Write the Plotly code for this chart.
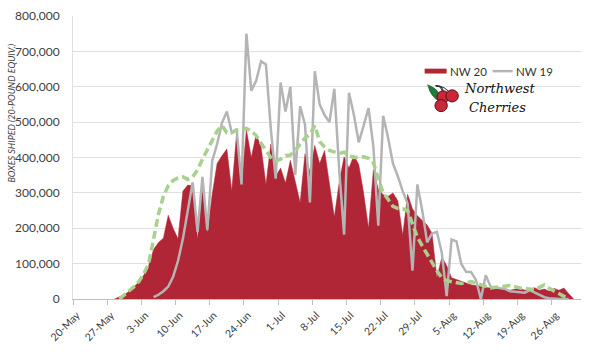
import plotly.graph_objects as go
import pandas as pd

# ---- data (one value per day, 20-May .. 1-Sep) ----
start_date = "2020-05-20"
n_days = 104
tick_labels = ["20-May", "27-May", "3-Jun", "10-Jun", "17-Jun", "24-Jun", "1-Jul", "8-Jul",
               "15-Jul", "22-Jul", "29-Jul", "5-Aug", "12-Aug", "19-Aug", "26-Aug"]
series_names = ["NW 20", "NW 19"]

nw20 = [None] * 8 + [
    0, 5000, 12000, 22000, 35000, 48000, 68000, 95000, 140000, 160000,          # d8-17
    172000, 237000, 200000, 170000, 305000, 322000, 320000, 168000, 324000, 186000,  # d18-27
    296000, 383000, 405000, 424000, 305000, 470000, 321000, 479000, 400000, 466000,  # d28-37
    430000, 324000, 438000, 347000, 370000, 328000, 392000, 330000, 273000, 411000,  # d38-47
    360000, 434000, 383000, 420000, 330000, 232000, 330000, 402000, 370000, 406000,  # d48-57
    380000, 300000, 200000, 365000, 310000, 295000, 290000, 300000, 278000, 180000,  # d58-67
    296000, 255000, 235000, 223000, 209000, 186000, 60000, 118000, 95000, 60000,     # d68-77
    55000, 50000, 45000, 40000, 38000, 35000, 32000, 30000, 28000, 30000,            # d78-87
    27000, 25000, 28000, 30000, 25000, 28000, 32000, 25000, 28000, 22000,            # d88-97
    30000, 25000, 31000, 15000, 0, None]                                              # d98-103

nw19 = [None] * 16 + [
    5000, 12000, 22000, 35000, 63000, 108000, 170000, 250000, 330000, 190000,       # d16-25
    345000, 195000, 390000, 438000, 498000, 530000, 470000, 480000, 324000, 750000,  # d26-35
    589000, 617000, 672000, 663000, 480000, 340000, 612000, 530000, 600000, 350000,  # d36-45
    545000, 493000, 273000, 644000, 550000, 520000, 500000, 594000, 365000, 182000,  # d46-55
    583000, 521000, 443000, 490000, 540000, 430000, 207000, 518000, 456000, 383000,  # d56-65
    347000, 305000, 270000, 80000, 324000, 250000, 160000, 185000, 190000, 130000,   # d66-75
    8000, 168000, 163000, 99000, 76000, 76000, 54000, 0, 67000, 35000,               # d76-85
    33000, 30000, 28000, 22000, 20000, 20000, 18000, 25000, 18000, 10000,            # d86-95
    5000, 2000, 0, 0, 0, 0, None, None]                                               # d96-103

avg = [None] * 9 + [
    0, 12000, 22000, 35000, 50000, 72000, 100000, 170000, 240000, 290000,           # d9-18
    320000, 335000, 342000, 345000, 338000, 345000, 365000, 395000, 420000, 450000,  # d19-28
    475000, 490000, 470000, 470000, 478000, 478000, 482000, 475000, 462000, 440000,  # d29-38
    420000, 400000, 390000, 395000, 405000, 407000, 420000, 438000, 455000, 465000,  # d39-48
    490000, 445000, 430000, 420000, 415000, 411000, 415000, 405000, 400000, 402000,  # d49-58
    402000, 398000, 385000, 340000, 300000, 282000, 262000, 256000, 255000, 250000,  # d59-68
    215000, 175000, 150000, 125000, 100000, 80000, 60000, 52000, 49000, 46000,       # d69-78
    44000, 46000, 49000, 45000, 40000, 36000, 31000, 33000, 35000, 37000,            # d79-88
    38000, 35000, 31000, 30000, 28000, 26000, 33000, 40000, 30000, 22000,            # d89-98
    14000, 6000, 0, None, None]                                                       # d99-103

days = pd.date_range(start_date, periods=n_days)
tick_days = pd.date_range(start_date, periods=len(tick_labels), freq="7D")

# ---- layout geometry (pixels) ----
W, H = 600, 352
L, R, T, B = 73.3, 18.6, 8.3, 52.5
pw, ph = W - L - R, H - T - B


def px(x):
    return (x - L) / pw


def py(y):
    return (H - B - y) / ph


half = pd.Timedelta(hours=12)
font_family = "Lato, 'Open Sans', sans-serif"
txt = "#404040"
RED, GRAY, GREEN = "#B02636", "#B4B4B4", "#A9D18E"

fig = go.Figure()
fig.add_trace(go.Scatter(
    x=days, y=nw20, name=series_names[0], mode="lines", showlegend=False,
    line=dict(color=RED, width=0.5), fill="tozeroy", fillcolor=RED,
))
fig.add_trace(go.Scatter(
    x=days, y=nw19, name=series_names[1], mode="lines", showlegend=False,
    line=dict(color=GRAY, width=2.5),
))
fig.add_trace(go.Scatter(
    x=days, y=avg, name="Average", mode="lines", showlegend=False,
    line=dict(color=GREEN, width=3.5, dash="8px,4px"),
))

fig.update_layout(
    width=W, height=H,
    margin=dict(l=L, r=R, t=T, b=B, pad=0),
    paper_bgcolor="white", plot_bgcolor="white",
    font=dict(family=font_family, size=11, color=txt),
    showlegend=False,
    xaxis=dict(
        range=[days[0] - half, days[-1] + half],
        tickvals=[d - half for d in tick_days], ticktext=tick_labels,
        tickangle=-45, ticks="outside", ticklen=5, tickcolor="#BFBFBF",
        showline=True, linecolor="#BFBFBF", linewidth=1,
        showgrid=False, zeroline=False, ticklabelshift=4,
        tickfont=dict(size=10.5, color=txt),
    ),
    yaxis=dict(
        range=[0, 800000], tickvals=list(range(0, 800001, 100000)),
        tickformat=",", showgrid=True, gridcolor="#E0E0E0", gridwidth=1,
        showline=True, linecolor="#E0E0E0", zeroline=False,
        ticks="", ticklabelstandoff=10, tickfont=dict(size=12, color=txt),
    ),
)

# y-axis title
fig.add_annotation(
    x=px(12), y=py(108), xref="paper", yref="paper", textangle=-90,
    xanchor="center", yanchor="middle",
    text="<i>BOXES SHIPED (20-POUND EQUIV.)</i>", showarrow=False,
    font=dict(size=9, color=txt, family=font_family),
)

# ---- legend (drawn manually for exact placement) ----
shapes = []
shapes.append(dict(type="rect", xref="paper", yref="paper",
                   x0=px(425), x1=px(447), y0=py(67.5), y1=py(62.5),
                   fillcolor=RED, line=dict(width=0)))
shapes.append(dict(type="line", xref="paper", yref="paper",
                   x0=px(493), x1=px(513), y0=py(65), y1=py(65),
                   line=dict(color=GRAY, width=2.5)))
fig.add_annotation(x=px(448), y=py(65), xref="paper", yref="paper", xanchor="left",
                   yanchor="middle", text=series_names[0], showarrow=False,
                   font=dict(size=11.5, color="#333333", family=font_family))
fig.add_annotation(x=px(514), y=py(65), xref="paper", yref="paper", xanchor="left",
                   yanchor="middle", text=series_names[1], showarrow=False,
                   font=dict(size=11.5, color="#333333", family=font_family))

# ---- logo (approximation) ----
shapes.append(dict(type="path", xref="paper", yref="paper",
                   path=f"M {px(428)},{py(79)} Q {px(431)},{py(92)} {px(440)},{py(96)} "
                        f"Q {px(443)},{py(85)} {px(428)},{py(79)} Z",
                   fillcolor="#1E7B3A", line=dict(color="#134d24", width=0.5)))
for sx, sy in [(443, 91), (452, 90), (442, 99)]:
    shapes.append(dict(type="path", xref="paper", yref="paper",
                       path=f"M {px(436)},{py(80)} Q {px(446)},{py(80)} {px(sx)},{py(sy)}",
                       line=dict(color="#222222", width=1)))
for cx, cy, r in [(443.5, 91.5, 6.2), (452.5, 90.5, 6.2), (441.5, 100.5, 6.2)]:
    shapes.append(dict(type="circle", xref="paper", yref="paper",
                       x0=px(cx - r), x1=px(cx + r), y0=py(cy + r), y1=py(cy - r),
                       fillcolor="#C8283A", line=dict(color="#5a1018", width=1)))
fig.update_layout(shapes=shapes)
fig.add_annotation(x=px(462), y=py(83), xref="paper", yref="paper", xanchor="left",
                   yanchor="middle", text="<i>Northwest</i>", showarrow=False,
                   font=dict(size=13, color="#111111", family="DejaVu Serif"))
fig.add_annotation(x=px(467), y=py(102), xref="paper", yref="paper", xanchor="left",
                   yanchor="middle", text="<i>Cherries</i>", showarrow=False,
                   font=dict(size=13, color="#111111", family="DejaVu Serif"))

fig.write_html("out.html")
